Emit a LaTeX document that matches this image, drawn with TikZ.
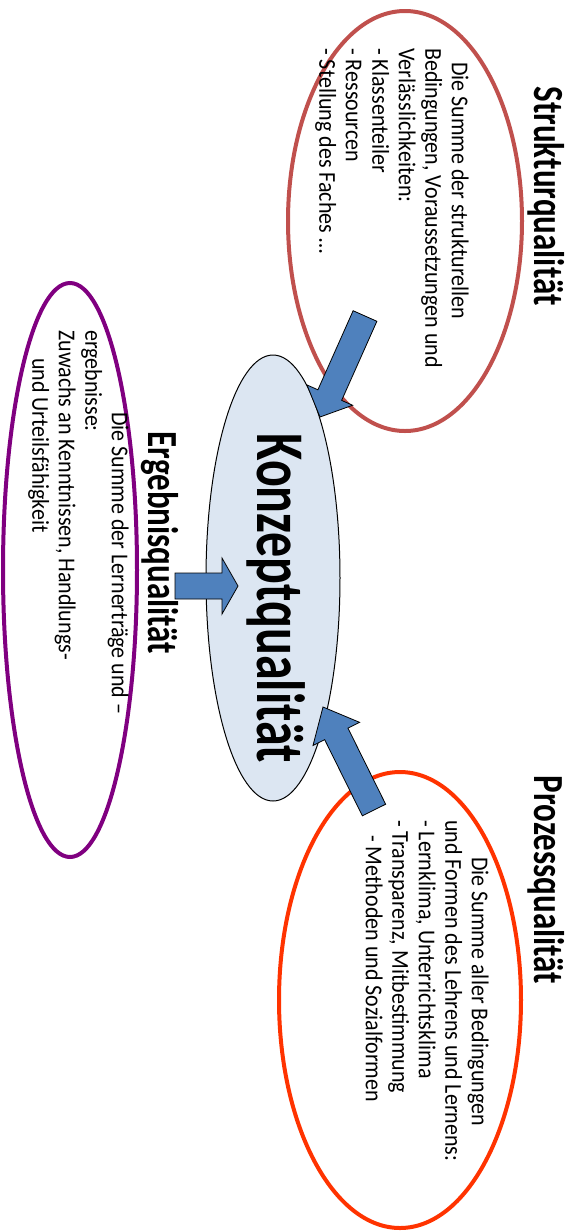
\documentclass[tikz,border=0pt]{standalone}
\usepackage{fontspec}
\setmainfont{Carlito}
\usetikzlibrary{calc}
\usetikzlibrary{shapes.geometric}

\definecolor{strukturrot}{HTML}{C0504D}
\definecolor{ergebnislila}{HTML}{800080}
\definecolor{prozessrot}{HTML}{FF3300}
\definecolor{konzeptblau}{HTML}{DCE6F2}
\definecolor{pfeilblau}{HTML}{4F81BD}

\tikzset{kreis/.style={draw, ellipse, line width=4pt, inner sep=0pt}}
\tikzset{titel/.style={rotate=-90, yscale=1.3, inner sep=0pt, font=\fontsize{33}{40}\selectfont\bfseries}}
\tikzset{inhalt/.style={rotate=-90, yscale=1.1, anchor=north west, align=left, inner sep=0pt, font=\fontsize{22}{24.1}\selectfont}}
\tikzset{pfeil/.style={fill=pfeilblau, draw=black, line width=0.8pt, line join=miter}}

% block arrow: #1 tail, #2 tip, #3 head length, #4 half head width
\newcommand{\blockpfeil}[4]{%
  \coordinate (#2k) at ($(#2)!#3!(#1)$);
  \draw[pfeil] ($(#1)!13pt!90:(#2)$) -- ($(#2k)!13pt!90:(#2)$) -- ($(#2k)!#4!90:(#2)$) -- (#2)
    -- ($(#2k)!#4!-90:(#2)$) -- ($(#2k)!13pt!-90:(#2)$) -- ($(#1)!13pt!-90:(#2)$) -- cycle;
}

\begin{document}
\begin{tikzpicture}[x=1pt, y=-1pt]
\useasboundingbox (0,0) rectangle (569,1232);

% ellipses
\node[kreis, draw=strukturrot, minimum width=234pt, minimum height=420pt] (struktur) at (405,221) {};
\node[kreis, draw=ergebnislila, minimum width=134pt, minimum height=574pt] (ergebnis) at (70,570) {};
\node[kreis, draw=prozessrot, minimum width=242pt, minimum height=456pt] (prozess) at (400,1000) {};
\node[draw, ellipse, fill=konzeptblau, line width=1pt, minimum width=134pt, minimum height=446pt] (konzept) at (273,578) {};

% arrows
\coordinate (strukturfuss) at (365,316);
\coordinate (strukturspitze) at (320,417);
\coordinate (ergebnisfuss) at (175,586);
\coordinate (ergebnisspitze) at (238,586);
\coordinate (prozessfuss) at (374,810);
\coordinate (prozessspitze) at (323,707);
\blockpfeil{strukturfuss}{strukturspitze}{24pt}{25pt}
\blockpfeil{ergebnisfuss}{ergebnisspitze}{16pt}{28pt}
\blockpfeil{prozessfuss}{prozessspitze}{30pt}{26pt}

% texts
\node[titel] (strukturtitel) at (546,196) {Strukturqualität};
\node[titel] (ergebnistitel) at (160,543) {Ergebnisqualität};
\node[titel] (prozesstitel) at (546,880) {Prozessqualität};
\node[titel, yscale=1.05, font=\fontsize{50}{60}\selectfont\bfseries] (konzepttext) at (276,598) {Konzeptqualität};

\node[inhalt] (strukturtext) at (469,48) {\hspace*{14pt}Die Summe der strukturellen\\Bedingungen, Voraussetzungen und\\Verlässlichkeiten:\\- Klassenteiler\\- Ressourcen\\- Stellung des Faches …};
\node[inhalt] (ergebnistext) at (129,330) {\hspace*{82pt}Die Summe der Lernerträge und –\\ergebnisse:\\Zuwachs an Kenntnissen, Handlungs-\\\hspace*{28pt}und Urteilsfähigkeit};
\node[inhalt] (prozesstext) at (489,820) {\hspace*{37pt}Die Summe aller Bedingungen\\und Formen des Lehrens und Lernens:\\- Lernklima, Unterrichtsklima\\- Transparenz, Mitbestimmung\\\hspace*{15pt}- Methoden und Sozialformen};
\end{tikzpicture}
\end{document}
